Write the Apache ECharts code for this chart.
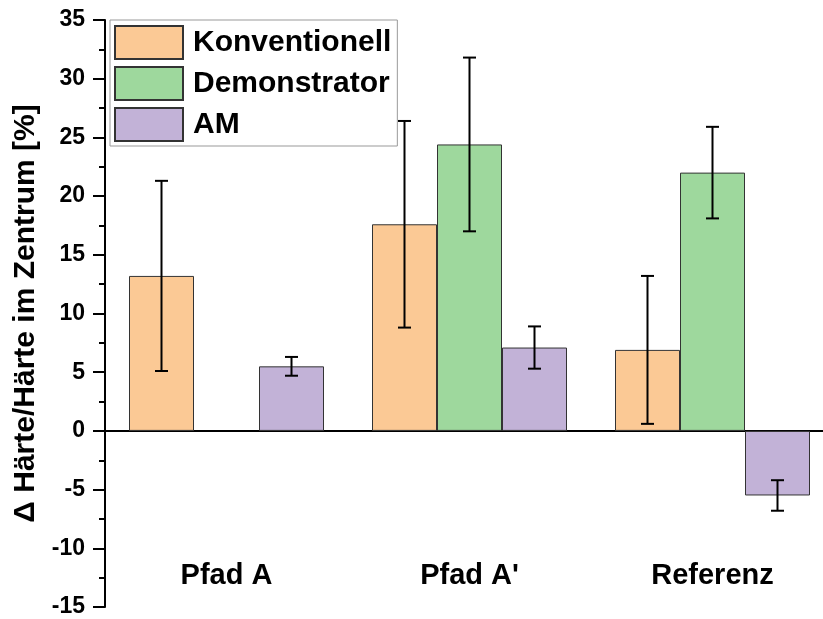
<!DOCTYPE html>
<html>
<head>
<meta charset="utf-8">
<script src="https://cdn.jsdelivr.net/npm/echarts@6/dist/echarts.min.js"></script>
<style>
  html, body { margin: 0; padding: 0; background: #fff; }
  #chart { width: 823px; height: 619px; }
</style>
</head>
<body>
<div id="chart"></div>
<script>
// Groups and series
const categories = ['Pfad A', "Pfad A'", 'Referenz'];
const seriesNames = ['Konventionell', 'Demonstrator', 'AM'];

// Mean change of hardness (%) and standard deviation per group
const konventionell    = [13.2, 17.6, 6.9];
const konventionellErr = [8.1, 8.8, 6.3];
const demonstrator     = [null, 24.4, 22.0];
const demonstratorErr  = [null, 7.4, 3.9];
const am               = [5.5, 7.1, -5.5];
const amErr            = [0.8, 1.8, 1.3];

// Value axis range
const yMin = -15;
const yMax = 35;
const yStep = 5;

const FONT = '"Liberation Sans", Arial, sans-serif';
const BAR_W = 65;
const CAP_W = 13;
const colors = ['#FBC995', '#9ED89D', '#C2B2D7'];

const means = [konventionell, demonstrator, am];
const errs = [konventionellErr, demonstratorErr, amErr];

// Error bar items: [category index, mean, deviation, series slot]
const errData = [];
means.forEach((arr, k) => {
  arr.forEach((v, i) => {
    if (v !== null && errs[k][i] !== null) errData.push([i, v, errs[k][i], k]);
  });
});

function renderErrorBar(params, api) {
  const ci = api.value(0), v = api.value(1), e = api.value(2), k = api.value(3);
  const center = api.coord([ci, v]);
  const x = center[0] + (k - 1) * BAR_W;
  const yTop = api.coord([ci, v + e])[1];
  const yBot = api.coord([ci, v - e])[1];
  const style = { stroke: '#000', lineWidth: 2 };
  return {
    type: 'group',
    children: [
      { type: 'line', shape: { x1: x, y1: yTop, x2: x, y2: yBot }, style },
      { type: 'line', shape: { x1: x - CAP_W / 2, y1: yTop, x2: x + CAP_W / 2, y2: yTop }, style },
      { type: 'line', shape: { x1: x - CAP_W / 2, y1: yBot, x2: x + CAP_W / 2, y2: yBot }, style }
    ]
  };
}

const chart = echarts.init(document.getElementById('chart'), null, { renderer: 'canvas' });

const barSeries = seriesNames.map((name, k) => ({
  name,
  type: 'bar',
  data: means[k],
  barWidth: BAR_W,
  barGap: '0%',
  itemStyle: { color: colors[k], borderColor: '#333', borderWidth: 1 },
  z: 2
}));

chart.setOption({
  animation: false,
  backgroundColor: '#fff',
  grid: { left: 105, top: 20, width: 729, height: 587, containLabel: false, outerBoundsMode: 'none' },
  legend: {
    data: seriesNames,
    orient: 'vertical',
    left: 110,
    top: 20,
    icon: 'rect',
    itemWidth: 68,
    itemHeight: 33,
    itemGap: 6,
    padding: [5, 6, 4, 4],
    borderColor: '#999',
    borderWidth: 1,
    backgroundColor: '#fff',
    textStyle: { fontFamily: FONT, fontWeight: 'bold', fontSize: 30, color: '#000', padding: [0, 0, 0, 5] }
  },
  xAxis: {
    type: 'category',
    data: categories,
    axisLine: { onZero: true, lineStyle: { color: '#000', width: 2 } },
    axisTick: { show: false },
    axisLabel: { margin: -46, fontFamily: FONT, fontWeight: 'bold', fontSize: 29, color: '#000' },
    splitLine: { show: false }
  },
  yAxis: {
    type: 'value',
    min: yMin,
    max: yMax,
    interval: yStep,
    name: '\u0394 H\u00e4rte/H\u00e4rte im Zentrum [%]',
    nameLocation: 'middle',
    nameGap: 63,
    nameTextStyle: { fontFamily: FONT, fontWeight: 'bold', fontSize: 30, color: '#000' },
    axisLine: { show: true, onZero: false, lineStyle: { color: '#000', width: 2 } },
    axisTick: { show: true, inside: false, length: 12, lineStyle: { color: '#000', width: 2 } },
    minorTick: { show: true, splitNumber: 2, length: 6, lineStyle: { color: '#000', width: 2 } },
    axisLabel: { margin: 20, fontFamily: FONT, fontWeight: 'bold', fontSize: 23, color: '#000' },
    splitLine: { show: false }
  },
  series: barSeries.concat([{
    name: 'Fehler',
    type: 'custom',
    renderItem: renderErrorBar,
    data: errData,
    encode: { x: 0, y: 1 },
    z: 5,
    silent: true
  }])
});
</script>
</body>
</html>
